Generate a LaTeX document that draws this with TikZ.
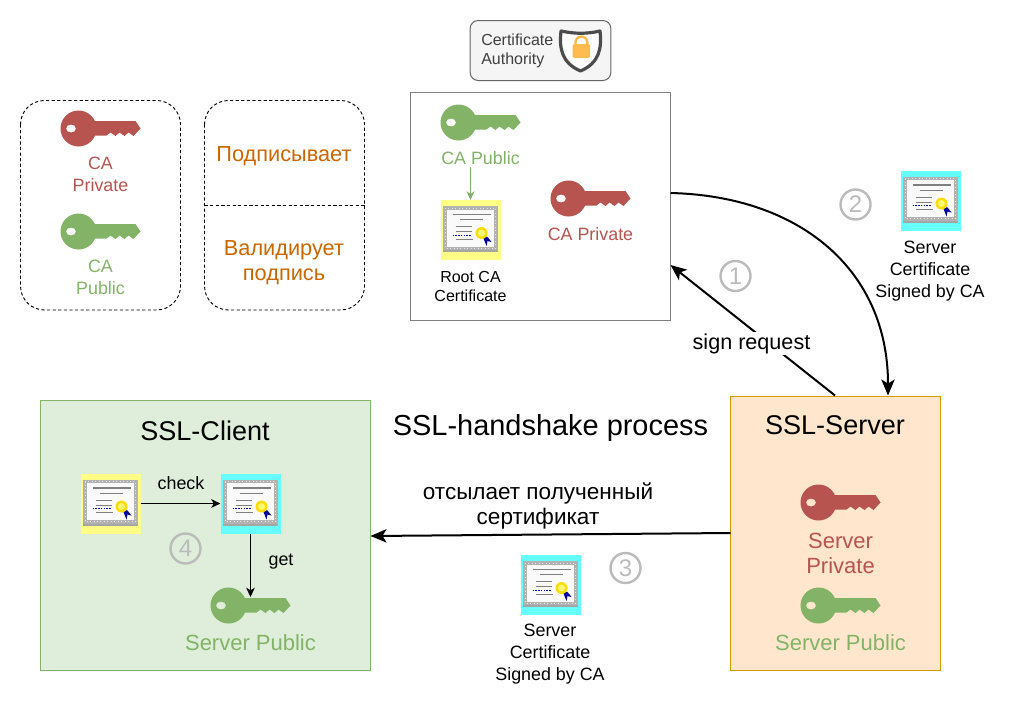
\documentclass[tikz,border=0pt]{standalone}
\usepackage{fontspec}
\setmainfont{Liberation Sans}
\usetikzlibrary{arrows.meta,calc}
\definecolor{kred}{HTML}{B85450}
\definecolor{kgreen}{HTML}{82B366}
\definecolor{torange}{HTML}{CC6600}
\definecolor{numgray}{HTML}{BBBBBB}
\definecolor{certyellow}{HTML}{FFFF88}
\definecolor{certcyan}{HTML}{66FFFF}
\definecolor{lockor}{HTML}{FFBB4D}
\definecolor{clientfill}{HTML}{DEEEDA}
\definecolor{serverfill}{HTML}{FFE6CC}
\definecolor{serverline}{HTML}{D79B00}
\tikzset{
  x=0.75pt,y=-0.75pt,
  txt/.style={align=center,inner sep=0pt,font=\fontsize{13.4}{16.3}\selectfont},
  txtlarge/.style={align=center,inner sep=0pt,font=\fontsize{16.5}{18.75}\selectfont},
  txttitle/.style={align=center,inner sep=0pt,font=\fontsize{20.3}{24}\selectfont},
  txtmid/.style={align=center,inner sep=0pt,font=\fontsize{16.3}{18.75}\selectfont},
  txtsmall/.style={align=center,inner sep=0pt,font=\fontsize{12}{14.25}\selectfont},
  dashbox/.style={draw=black,line width=0.7pt,dash pattern=on 2.4pt off 1.8pt,rounded corners=18pt},
  certbg/.style={minimum size=45pt,inner sep=0pt,outer sep=0pt,fill=#1},
  numcirc/.style={circle,draw=numgray,line width=1.8pt,text=numgray,minimum size=22.5pt,inner sep=0pt,font=\fontsize{18}{18}\selectfont},
  thin arrow/.style={draw=black,line width=0.75pt,-{Stealth[length=7pt,width=6.5pt,inset=2pt]}},
  thick arrow/.style={draw=black,line width=1.5pt,-{Stealth[length=12pt,width=10pt,inset=3pt]}},
  pics/keyicon/.style={code={
    \fill[#1] (30,10.5) -- (75,10.5) -- (80,18) -- (73,25.5) -- (68,22) -- (64,25.5) -- (59,22) -- (55,25.5) -- (50,22) -- (46,25) -- (30,25) -- cycle;
    \fill[#1,even odd rule] (18,18) ellipse [x radius=18,y radius=18]
      (10.5,18) ellipse [x radius=5,y radius=4];
  }},
  pics/certicon/.style={code={
    \fill[black!35] (2.5,48) rectangle (57,52);
    \fill[gray!60] (2.5,6) rectangle (57,50);
    \draw[white!80!gray,line width=0.6pt,dotted] (4.5,8) rectangle (55,48);
    \fill[white!96!gray] (6,9.5) rectangle (53.5,46.5);
    \draw[gray,line width=1.3pt] (12,14.5) -- (50,14.5);
    \draw[gray,line width=0.7pt] (19,19.5) -- (42,19.5);
    \draw[gray,line width=0.7pt] (15,26.5) -- (31,26.5) (15,31.5) -- (31,31.5) (15,39) -- (32,39);
    \draw[blue!60!black,line width=0.7pt,dash pattern=on 1pt off 1.2pt] (12,35) -- (21,35) (23,35) -- (30,35);
    \fill[blue!60!black] (42,36) -- (47,37) -- (51,42) -- (47,41) -- (46,46) -- cycle;
    \fill[yellow!80!orange] (41,33) circle [radius=6];
    \fill[yellow!55!white] (41,33) circle [radius=3.5];
  }},
  pics/shieldicon/.style={code={
    \path[fill=white,draw=black!70,line width=2.4pt,line join=round]
      (0,2) .. controls (14,5) and (26,5) .. (39,2)
      .. controls (41,20) and (38,34) .. (19.5,42)
      .. controls (1,34) and (-2,20) .. (0,2) -- cycle;
    \fill[lockor,rounded corners=1pt] (11.7,15) rectangle (29,29);
    \draw[lockor,line width=1.8pt] (14.5,15) -- (14.5,13.5) arc[start angle=180,end angle=0,radius=5.9,y radius=-5.9] -- (26.3,15);
  }},
}
\begin{document}
\begin{tikzpicture}
\useasboundingbox (0,0) rectangle (1009,707);
% legend
\draw[dashbox] (20.5,100.5) rectangle (180.5,310);
\draw[dashbox] (204.5,100.5) rectangle (364.5,310);
\draw[line width=0.7pt,dash pattern=on 2.4pt off 1.8pt] (204.5,205.5) -- (364.5,205.5);
\pic at (60.5,110.5) {keyicon=kred};
\node[txt,text=kred] (lpriv) at (100.5,174.5) {CA\\Private};
\pic at (60.5,213.5) {keyicon=kgreen};
\node[txt,text=kgreen] (lpub) at (100.5,277.5) {CA\\Public};
\node[txtmid,text=torange] (sign) at (284,156) {Подписывает};
\node[txtmid,text=torange] (valid) at (284,262.5) {Валидирует\\подпись};
% CA
\node[draw=black!60,fill=black!4,rounded corners=6pt,line width=0.75pt,minimum width=105.5pt,minimum height=45pt,inner sep=0pt] (calabel) at (540.5,50.5) {};
\node[inner sep=0pt,align=left,font=\fontsize{12}{14.25}\selectfont,text=black!75,anchor=west] (caltext) at (481,51) {Certificate\\Authority};
\pic at (561,29) {shieldicon};
\node[draw=black!50,fill=white,line width=0.75pt,minimum width=195pt,minimum height=171pt,inner sep=0pt] (ca) at (540.5,206.5) {};
\pic at (440.5,104.5) {keyicon=kgreen};
\node[txt,text=kgreen] (capub) at (480.5,158.5) {CA Public};
\node[certbg=certyellow] (rootcert) at (470.5,230) {};
\pic at (440.5,200) {certicon};
\draw[draw=kgreen,line width=0.75pt,-{Stealth[length=6.5pt,width=6pt,inset=2pt]}] (capub.south -| rootcert.north) ++(0,2) -- (rootcert.north);
\node[txtsmall] (rootlabel) at (470.5,286) {Root CA\\Certificate};
\pic at (550.5,180.5) {keyicon=kred};
\node[txt,text=kred] (capriv) at (590.5,234.5) {CA Private};
% client
\node[draw=kgreen,fill=clientfill,line width=0.75pt,minimum width=247.5pt,minimum height=202.5pt,inner sep=0pt] (client) at (205.5,535) {};
\node[txttitle] (clienttitle) at (205,431) {SSL-Client};
\node[certbg=certyellow] (cert1) at (110.5,503.5) {};
\pic at (80.5,473.5) {certicon};
\node[certbg=certcyan] (cert2) at (250.5,503.5) {};
\pic at (220.5,473.5) {certicon};
\draw[thin arrow] (cert1.east) -- (cert2.west);
\node[txt] (check) at (181,483) {check};
\pic at (210.5,587.5) {keyicon=kgreen};
\coordinate (clientkey) at (250.5,597);
\draw[thin arrow] (cert2.south) -- (clientkey);
\node[txt] (get) at (281,562) {get};
\node[numcirc] (n4) at (185.5,548.5) {4};
\node[txtlarge,text=kgreen] (clientpub) at (250.5,643) {Server Public};
% server
\node[draw=serverline,fill=serverfill,line width=0.75pt,minimum width=157.5pt,minimum height=205.5pt,inner sep=0pt] (server) at (835.5,533) {};
\node[txttitle] (servertitle) at (835,425) {SSL-Server};
\pic at (800.5,484.5) {keyicon=kred};
\node[txtlarge,text=kred] (serverpriv) at (840.5,553) {Server\\Private};
\pic at (800.5,587.5) {keyicon=kgreen};
\node[txtlarge,text=kgreen] (serverpub) at (840.5,643) {Server Public};
% title
\node[font=\fontsize{21.7}{24}\selectfont,inner sep=0pt] (title) at (550.5,428) {SSL-handshake process};
% connectors
\coordinate (s1) at (835,395.5);
\coordinate (c1) at (670.5,265);
\draw[thick arrow] (s1) -- (c1);
\node[fill=white,inner sep=1pt,font=\fontsize{16.2}{18}\selectfont] (signreq) at (751.5,343.5) {sign request};
\coordinate (c2) at (670.5,193);
\coordinate (s2) at (888,395.5);
\draw[thick arrow] (c2) .. controls (800,196) and (888,270) .. (s2);
\coordinate (s3) at (730.5,533);
\coordinate (cl3) at (370.5,536);
\draw[thick arrow] (s3) -- (cl3);
\node[inner sep=0pt,align=center,font=\fontsize{16.9}{18.75}\selectfont] (sends) at (538,505.5) {отсылает полученный\\сертификат};
\node[numcirc] (n1) at (735.5,276) {1};
\node[numcirc] (n2) at (855.5,204.5) {2};
\node[numcirc] (n3) at (625.5,568) {3};
\node[certbg=certcyan] (cert3) at (930.5,200.5) {};
\pic at (900.5,170.5) {certicon};
\node[txt] (cert3label) at (930,271) {Server\\Certificate\\Signed by CA};
\node[certbg=certcyan] (cert4) at (550.5,585) {};
\pic at (520.5,555) {certicon};
\node[txt] (cert4label) at (550,654) {Server\\Certificate\\Signed by CA};
\end{tikzpicture}
\end{document}
